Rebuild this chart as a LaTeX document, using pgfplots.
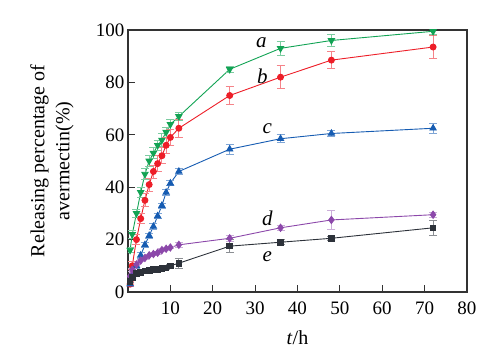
\documentclass[border=0pt]{standalone}
\usepackage{fontspec}
\setmainfont{LiberationSerif}[Extension=.ttf, UprightFont=*-Regular, ItalicFont=*-Italic, BoldFont=*-Bold, BoldItalicFont=*-BoldItalic]
\usepackage{pgfplots}
\pgfplotsset{compat=1.18}
\definecolor{cg}{RGB}{18,163,84}
\definecolor{cr}{RGB}{237,30,40}
\definecolor{cb}{RGB}{22,92,178}
\definecolor{cp}{RGB}{140,72,170}
\definecolor{ck}{RGB}{45,50,58}
\begin{document}
\begin{tikzpicture}[x=1pt,y=1pt]
\useasboundingbox (-128,-59) rectangle (373,292);
\begin{axis}[
  at={(0,0)}, anchor=south west,
  width=339pt, height=262pt, scale only axis,
  xmin=0, xmax=80, ymin=0, ymax=100,
  xtick={10,20,...,80}, ytick={0,20,...,100},
  tick align=inside, xtick pos=bottom, ytick pos=left,
  major tick length=7pt,
  axis line style={line width=1.1pt, draw=black!80},
  every tick/.style={line width=1pt, black!80},
  tick label style={font=\fontsize{19}{19}\selectfont},
  xticklabel style={yshift=-6pt},
  /pgf/number format/assume math mode=true,
  xlabel={\textit{t}/h},
  ylabel={Releasing percentage of\\avermectin(\%)},
  label style={font=\fontsize{20}{25}\selectfont},
  ylabel style={at={(axis description cs:-0.224,0.5)}, anchor=center, align=center},
  xlabel style={at={(axis description cs:0.5,-0.176)}, anchor=center},
  error bars/y dir=both, error bars/y explicit,
  error bars/error mark options={rotate=90, mark size=4pt, line width=0.8pt},
]
\addplot[cg, line width=0.9pt, mark=triangle*, mark options={rotate=180, scale=1.8},
  error bars/error bar style={cg!55, line width=0.8pt}]
  table[x=x, y=y, y error=e] {
x y e
0.5 16 1
1 22 1.5
2 30 1.5
3 38 2
4 45 2
5 50 2
6 53 2
7 56 2
8 58 2.5
9 61 2
10 64 2
12 67 1.5
24 85 1
36 93 2.8
48 96 2.2
72 99.5 1
};
\addplot[cr, line width=0.9pt, mark=*, mark options={scale=1.5},
  error bars/error bar style={cr!55, line width=0.8pt}]
  table[x=x, y=y, y error=e] {
x y e
0.5 3 1
1 10 1.5
2 20 2
3 28 2
4 35 2.5
5 41 2.5
6 46 2.5
7 49 3
8 52 3
9 56 3
10 59 3
12 62.5 3.5
24 75 3.4
36 82 4.3
48 88.5 3.3
72 93.5 4.3
};
\addplot[cb, line width=0.9pt, mark=triangle*, mark options={scale=1.8},
  error bars/error bar style={cb!55, line width=0.8pt}]
  table[x=x, y=y, y error=e] {
x y e
0.5 3 0.5
1 6 0.5
2 10 1
3 14 1
4 18 1
5 21.5 1
6 25 1
7 29 1
8 33 1
9 38 1
10 41.5 1
12 46 1
24 54.5 2
36 58.5 1.5
48 60.5 1.2
72 62.5 2
};
\addplot[cp, line width=0.9pt, mark=diamond*, mark options={scale=1.8},
  error bars/error bar style={cp!45, line width=0.8pt}]
  table[x=x, y=y, y error=e] {
x y e
0.5 6 0.5
1 8.5 0.5
2 10.5 0.5
3 12 0.5
4 13 0.5
5 14 0.5
6 14.5 0.5
7 15 0.5
8 16 0.5
9 16.5 0.5
10 17 0.5
12 18 0.8
24 20.5 1
36 24.5 1
48 27.5 3.6
72 29.5 1
};
\addplot[ck, line width=0.9pt, mark=square*, mark options={scale=1.4},
  error bars/error bar style={ck!55, line width=0.8pt}]
  table[x=x, y=y, y error=e] {
x y e
0.5 4 0.5
1 5.5 0.5
2 7 0.5
3 7.5 0.5
4 8 0.5
5 8.2 0.5
6 8.5 0.5
7 8.7 0.8
8 9 0.5
9 9.2 0.5
10 10 0.5
12 11 1.9
24 17.5 2.5
36 19 1
48 20.5 0.8
72 24.5 2.8
};
\node[font=\fontsize{21}{21}\selectfont\itshape] at (axis cs:31.5,95) {a};
\node[font=\fontsize{21}{21}\selectfont\itshape] at (axis cs:31.7,82.5) {b};
\node[font=\fontsize{21}{21}\selectfont\itshape] at (axis cs:32.9,62.5) {c};
\node[font=\fontsize{21}{21}\selectfont\itshape] at (axis cs:32.9,28) {d};
\node[font=\fontsize{21}{21}\selectfont\itshape] at (axis cs:32.9,13.5) {e};
\end{axis}
\end{tikzpicture}
\end{document}
